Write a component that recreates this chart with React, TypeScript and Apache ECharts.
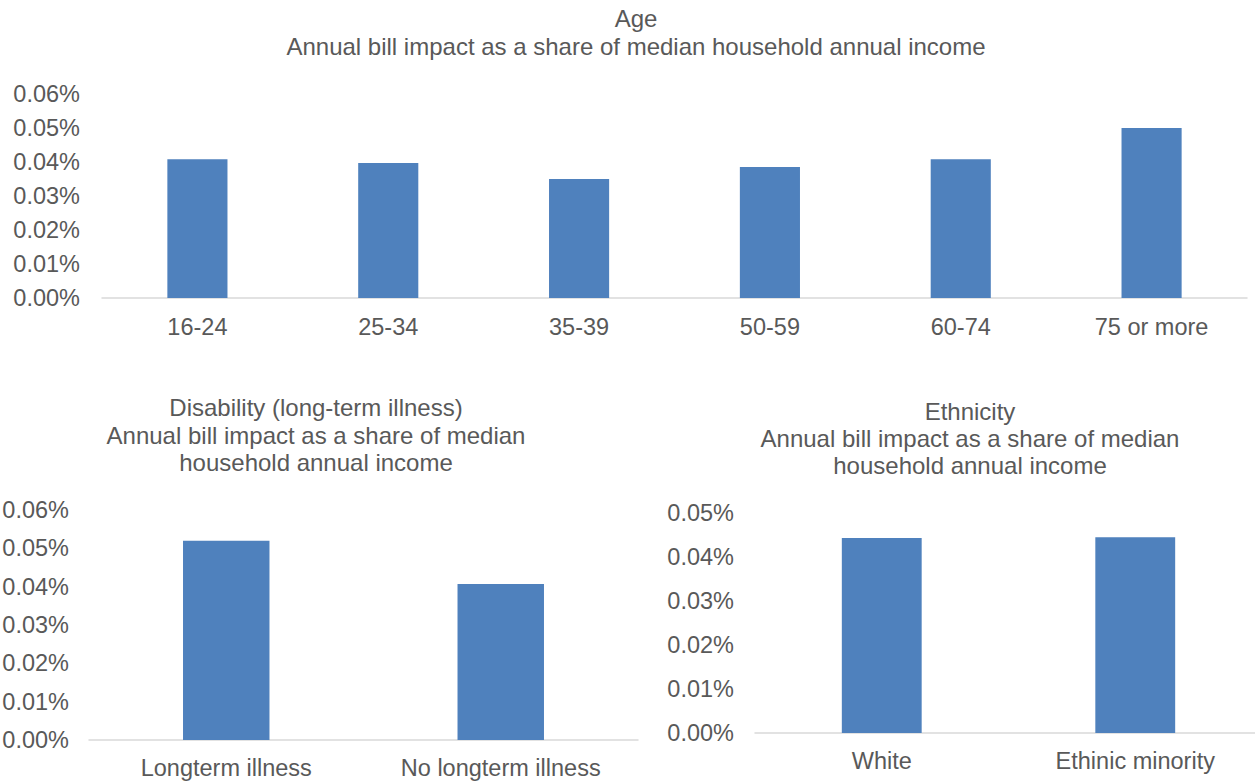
import React, { useEffect, useRef } from "react";
import * as echarts from "echarts";

const ageCategories = ["16-24", "25-34", "35-39", "50-59", "60-74", "75 or more"];
const ageValues = [0.0408, 0.0397, 0.035, 0.0385, 0.0408, 0.05];

const disabilityCategories = ["Longterm illness", "No longterm illness"];
const disabilityValues = [0.052, 0.0407];

const ethnicityCategories = ["White", "Ethinic minority"];
const ethnicityValues = [0.0443, 0.0445];

const ageTitle = "Age\nAnnual bill impact as a share of median household annual income";
const disabilityTitle = "Disability (long-term illness)\nAnnual bill impact as a share of median\nhousehold annual income";
const ethnicityTitle = "Ethnicity\nAnnual bill impact as a share of median\nhousehold annual income";

const FONT = "'Liberation Sans', Arial, sans-serif";
const TEXT = "#595959";
const BAR = "#4F81BD";

export default function App() {
  const ref = useRef<HTMLDivElement>(null);
  useEffect(() => {
    if (!ref.current) return;
    const chart = echarts.init(ref.current, undefined, { renderer: "svg" });
    const pct = (v: number) => v.toFixed(2) + "%";
    const xAxisBase = (gridIndex: number, data: string[], margin: number) => ({
      type: "category" as const,
      gridIndex,
      data,
      axisLine: { lineStyle: { color: "#D9D9D9", width: 1.5 } },
      axisTick: { show: false },
      axisLabel: { color: TEXT, fontSize: 23.5, fontFamily: FONT, margin, interval: 0 },
    });
    const yAxisBase = (gridIndex: number, max: number, margin: number, fontSize: number) => ({
      type: "value" as const,
      gridIndex,
      min: 0,
      max,
      interval: 0.01,
      splitLine: { show: false },
      axisLine: { show: false },
      axisTick: { show: false },
      axisLabel: { color: TEXT, fontSize, fontFamily: FONT, margin, formatter: pct },
    });
    const titleText = (x: number, y: number, text: string, lh: number) => ({
      type: "text",
      x,
      y,
      style: {
        text,
        fill: TEXT,
        font: `24px ${FONT}`,
        textAlign: "center",
        textVerticalAlign: "top",
        lineHeight: lh,
      },
    });
    chart.setOption({
      animation: false,
      backgroundColor: "#ffffff",
      grid: [
        { left: 102, right: 8, top: 94, height: 204, outerBoundsMode: "none", containLabel: false },
        { left: 89, width: 549, top: 510, height: 230, outerBoundsMode: "none", containLabel: false },
        { left: 755, width: 507, top: 513, height: 220, outerBoundsMode: "none", containLabel: false },
      ],
      xAxis: [
        xAxisBase(0, ageCategories, 17),
        xAxisBase(1, disabilityCategories, 16),
        xAxisBase(2, ethnicityCategories, 16),
      ],
      yAxis: [yAxisBase(0, 0.06, 22, 23.5), yAxisBase(1, 0.06, 20, 23.5), yAxisBase(2, 0.05, 21, 23.5)],
      series: [
        { type: "bar", xAxisIndex: 0, yAxisIndex: 0, data: ageValues, barWidth: "31.5%", itemStyle: { color: BAR } },
        { type: "bar", xAxisIndex: 1, yAxisIndex: 1, data: disabilityValues, barWidth: "31.5%", itemStyle: { color: BAR } },
        { type: "bar", xAxisIndex: 2, yAxisIndex: 2, data: ethnicityValues, barWidth: "31.5%", itemStyle: { color: BAR } },
      ],
      graphic: [
        titleText(636, 4, ageTitle, 28),
        titleText(316, 394, disabilityTitle, 27.5),
        titleText(970, 398, ethnicityTitle, 27),
      ],
    });
    return () => chart.dispose();
  }, []);
  return <div ref={ref} style={{ width: 1255, height: 782, position: "absolute", left: 0, top: 0, overflow: "hidden" }} />;
}
